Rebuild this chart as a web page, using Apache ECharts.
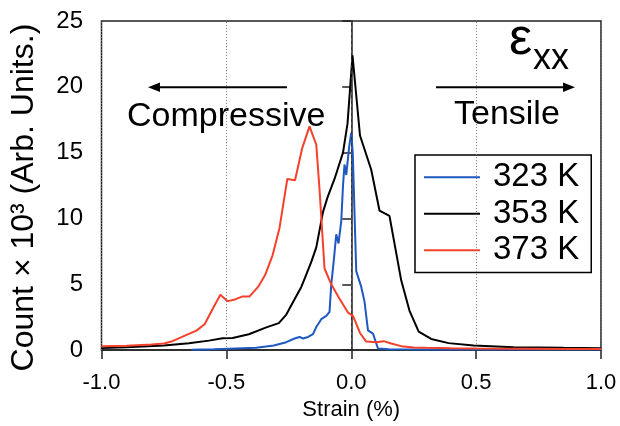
<!DOCTYPE html>
<html>
<head>
<meta charset="utf-8">
<script src="https://cdn.jsdelivr.net/npm/echarts@6/dist/echarts.min.js"></script>
<style>
  html, body { margin: 0; padding: 0; background: #fff; }
  #graph { width: 620px; height: 426px; }
</style>
</head>
<body>
<div id="graph"></div>
<script>
	var FONT = "'Liberation Sans', Arial, Helvetica, sans-serif";

	// strain (%) , count x 10^3
	var s323 = [[-0.64,0.03],[-0.55,0.06],[-0.49,0.1],[-0.38,0.17],[-0.31,0.35],[-0.26,0.6],
		[-0.227,0.88],[-0.207,1.0],[-0.193,0.88],[-0.173,1.0],[-0.153,1.22],[-0.14,1.75],
		[-0.12,2.35],[-0.1,2.6],[-0.087,2.9],[-0.08,5.0],[-0.07,6.8],[-0.06,8.8],[-0.051,8.1],
		[-0.04,9.8],[-0.033,12.5],[-0.027,14.1],[-0.02,13.3],[-0.008,15.5],[0.0,16.5],
		[0.006,15.0],[0.02,6.0],[0.04,4.8],[0.053,3.7],[0.067,1.5],[0.087,1.25],[0.107,0.12],
		[0.15,0.06],[0.3,0.05],[0.5,0.05],[0.7,0.05],[1.0,0.05]];
	var s353 = [[-1.0,0.15],[-0.9,0.22],[-0.75,0.35],[-0.65,0.52],[-0.57,0.72],[-0.515,0.9],
		[-0.475,0.92],[-0.41,1.2],[-0.34,1.73],[-0.29,2.05],[-0.26,2.7],[-0.24,3.4],[-0.2,4.8],
		[-0.185,5.5],[-0.16,6.7],[-0.14,7.8],[-0.113,10.5],[-0.095,11.6],[-0.067,13.0],
		[-0.033,15.0],[-0.015,17.2],[0.005,22.4],[0.035,16.3],[0.08,13.7],[0.113,10.6],
		[0.153,10.2],[0.2,5.3],[0.233,3.0],[0.27,1.4],[0.32,0.85],[0.39,0.53],[0.49,0.35],
		[0.65,0.22],[0.85,0.17],[1.0,0.15]];
	var s373 = [[-1.0,0.3],[-0.9,0.33],[-0.8,0.42],[-0.75,0.5],[-0.72,0.65],[-0.68,0.98],
		[-0.62,1.48],[-0.587,1.97],[-0.553,3.2],[-0.524,4.2],[-0.495,3.72],[-0.465,3.85],
		[-0.435,4.08],[-0.407,4.08],[-0.373,4.8],[-0.345,5.7],[-0.315,7.2],[-0.287,9.3],
		[-0.256,13.0],[-0.225,12.9],[-0.197,15.3],[-0.167,17.0],[-0.14,15.6],[-0.127,12.2],
		[-0.107,6.2],[-0.08,5.0],[-0.05,4.0],[-0.013,2.85],[0.007,2.6],[0.035,1.3],
		[0.06,0.65],[0.1,0.6],[0.13,0.68],[0.16,0.5],[0.2,0.3],[0.25,0.2],[0.3,0.17],
		[0.4,0.14],[0.5,0.12],[0.7,0.1],[0.85,0.09],[1.0,0.08]];

	var names = ['323 K', '353 K', '373 K'];
	var colors = ['#1f58c0', '#000000', '#f5412b'];
	var xTicks = [-1.0, -0.5, 0.0, 0.5, 1.0];

	var myChart = echarts.init(document.getElementById('graph'));

	function line(name, data, color) {
		return {
			name: name,
			type: 'line',
			data: data,
			showSymbol: false,
			lineStyle: { color: color, width: 2 },
			itemStyle: { color: color }
		};
	}

	var series = [
		line(names[0], s323, colors[0]),
		line(names[1], s353, colors[1]),
		line(names[2], s373, colors[2])
	];
	// vertical grid lines: dotted, the zero one dashed
	var vLines = [];
	for (var i = 0; i < xTicks.length; i++) {
		var zero = xTicks[i] === 0;
		vLines.push({
			xAxis: xTicks[i],
			lineStyle: zero ? { color: '#333', type: [3, 3], width: 1 } : { color: '#777', type: [1, 2], width: 1 }
		});
	}
	series[0].markLine = {
		silent: true,
		symbol: ['none', 'none'],
		label: { show: false },
		data: vLines
	};

	myChart.setOption({
		animation: false,
		textStyle: { fontFamily: FONT },
		grid: {
			left: 100, right: 19, top: 21, bottom: 73,
			show: true, borderColor: '#222', borderWidth: 1.5
		},
		legend: {
			data: names,
			orient: 'vertical',
			left: 415, top: 155,
			icon: 'rect',
			itemWidth: 56, itemHeight: 2,
			itemGap: 0,
			padding: [4, 12, 4, 9],
			borderColor: '#000', borderWidth: 1.5,
			textStyle: { fontSize: 33, lineHeight: 36.5, color: '#000', fontFamily: FONT, padding: [0, 0, 0, 8] }
		},
		xAxis: {
			type: 'value',
			min: xTicks[0], max: xTicks[xTicks.length - 1], interval: 0.5,
			offset: 3,
			name: 'Strain (%)',
			nameLocation: 'middle',
			nameGap: 45,
			nameTextStyle: { fontSize: 22, color: '#000', fontFamily: FONT },
			axisLine: { show: true, lineStyle: { color: '#222', width: 1.5 } },
			axisTick: { show: true, inside: false, length: 9, lineStyle: { color: '#222', width: 1.5 } },
			axisLabel: { fontSize: 22, color: '#000', margin: 19, formatter: function (v) { return v.toFixed(1); } },
			splitLine: { show: false }
		},
		yAxis: {
			type: 'value',
			min: 0, max: 25, interval: 5,
			offset: 1.5,
			name: 'Count \u00d7 10\u00b3 (Arb. Units.)',
			nameLocation: 'middle',
			nameGap: 60,
			nameTextStyle: { fontSize: 32, color: '#000', fontFamily: FONT, padding: [0, 24, 0, 0] },
			axisLine: { show: true, lineStyle: { color: '#222', width: 1.5 } },
			axisTick: { show: true, inside: false, length: 9, lineStyle: { color: '#222', width: 1.5 } },
			axisLabel: { fontSize: 24, color: '#000', margin: 17 },
			splitLine: { show: false }
		},
		graphic: [
			// compressive arrow
			{ type: 'line', shape: { x1: 287, y1: 87.3, x2: 156, y2: 87.3 }, style: { stroke: '#000', lineWidth: 2 } },
			{ type: 'polygon', shape: { points: [[148, 87.3], [160, 82.5], [160, 92.1]] }, style: { fill: '#000' } },
			{ type: 'text', style: { x: 127, y: 117, text: 'Compressive', font: '34px ' + FONT, fill: '#000', textVerticalAlign: 'middle' } },
			// tensile arrow
			{ type: 'line', shape: { x1: 436, y1: 87.3, x2: 567, y2: 87.3 }, style: { stroke: '#000', lineWidth: 2 } },
			{ type: 'polygon', shape: { points: [[575, 87.3], [563, 82.5], [563, 92.1]] }, style: { fill: '#000' } },
			{ type: 'text', style: { x: 454, y: 115, text: 'Tensile', font: '34px ' + FONT, fill: '#000', textVerticalAlign: 'middle' } },
			// epsilon_xx
			{ type: 'text', style: { x: 509, y: 66, text: '\u03b5', font: '52px ' + FONT, fill: '#000', textVerticalAlign: 'bottom' } },
			{ type: 'text', style: { x: 533, y: 77, text: 'xx', font: '36px ' + FONT, fill: '#000', textVerticalAlign: 'bottom' } }
		],
		series: series
	});
</script>
</body>
</html>
